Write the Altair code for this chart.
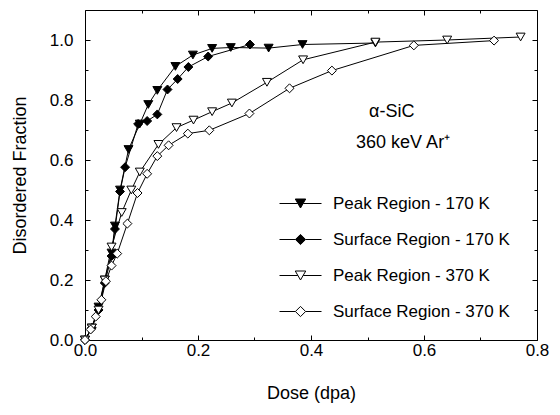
import altair as alt
import pandas as pd

series_names = ["Peak Region - 170 K", "Surface Region - 170 K",
                "Peak Region - 370 K", "Surface Region - 370 K"]

peak170_x = [0.0, 0.012, 0.024, 0.035, 0.047, 0.053, 0.062, 0.077, 0.097, 0.112, 0.128, 0.160, 0.191, 0.225, 0.258, 0.325, 0.385, 0.514]
peak170_y = [0.0, 0.04, 0.11, 0.20, 0.29, 0.38, 0.50, 0.635, 0.72, 0.785, 0.832, 0.912, 0.950, 0.972, 0.975, 0.973, 0.985, 0.990]

surf170_x = [0.0, 0.012, 0.024, 0.035, 0.047, 0.053, 0.062, 0.071, 0.094, 0.110, 0.128, 0.146, 0.164, 0.183, 0.218, 0.292]
surf170_y = [0.0, 0.04, 0.10, 0.19, 0.28, 0.37, 0.495, 0.576, 0.72, 0.73, 0.752, 0.835, 0.870, 0.910, 0.945, 0.985]

peak370_x = [0.0, 0.012, 0.024, 0.035, 0.047, 0.065, 0.082, 0.097, 0.130, 0.162, 0.192, 0.225, 0.260, 0.322, 0.386, 0.514, 0.641, 0.771]
peak370_y = [0.0, 0.04, 0.10, 0.20, 0.31, 0.425, 0.50, 0.56, 0.652, 0.708, 0.733, 0.761, 0.790, 0.859, 0.934, 0.993, 1.000, 1.010]

surf370_x = [0.0, 0.010, 0.019, 0.029, 0.037, 0.047, 0.057, 0.075, 0.093, 0.110, 0.128, 0.148, 0.182, 0.220, 0.291, 0.362, 0.437, 0.582, 0.724]
surf370_y = [0.0, 0.035, 0.078, 0.134, 0.196, 0.248, 0.288, 0.388, 0.490, 0.554, 0.613, 0.649, 0.688, 0.699, 0.755, 0.839, 0.898, 0.982, 0.998]

x_major = [0.0, 0.2, 0.4, 0.6, 0.8]
x_minor = [0.1, 0.3, 0.5, 0.7]
y_major = [0.0, 0.2, 0.4, 0.6, 0.8, 1.0]
y_minor = [0.1, 0.3, 0.5, 0.7, 0.9]

annot_1 = "α-SiC"
annot_2 = "360 keV Ar⁺"

rows = []
for name, xs, ys in zip(series_names,
                        [peak170_x, surf170_x, peak370_x, surf370_x],
                        [peak170_y, surf170_y, peak370_y, surf370_y]):
    for xv, yv in zip(xs, ys):
        rows.append({"series": name, "dose": xv, "frac": yv})
df = pd.DataFrame(rows)

FONT = "Liberation Sans"
W, H = 452, 330
MAJ, MIN = 5, 3

xscale = alt.Scale(domain=[0, 0.8], nice=False, zero=False)
yscale = alt.Scale(domain=[0, 1.1], nice=False, zero=False)


def ax(orient, values, size, labels=False, title=None, **kw):
    args = dict(orient=orient, values=values, tickSize=size, offset=-size,
                domain=False, grid=False, labels=labels, ticks=True,
                tickColor="black", tickWidth=1)
    if labels:
        args.update(labelFont=FONT, labelFontSize=17, labelColor="black",
                    labelFlush=False, labelOverlap=False)
    if title is not None:
        args.update(title=title, titleFont=FONT, titleFontSize=18,
                    titleFontWeight="normal", titleColor="black")
    else:
        args.update(title=None)
    args.update(kw)
    return alt.Axis(**args)


X = lambda a: alt.X("dose:Q", scale=xscale, axis=a)
Y = lambda a: alt.Y("frac:Q", scale=yscale, axis=a)

lines = alt.Chart(df).mark_line(color="black", strokeWidth=1).encode(
    x=X(ax("bottom", x_major, MAJ, labels=True, title="Dose (dpa)",
           labelPadding=2, format=".1f", titleBaseline="middle", titleY=58)),
    y=Y(ax("left", y_major, MAJ, labels=True, title="Disordered Fraction",
           labelPadding=12, format=".1f", titleBaseline="middle", titleX=-70)),
    detail="series:N",
)

points = alt.Chart(df).mark_point(filled=True, size=80, stroke="black",
                                  strokeWidth=1, opacity=1).encode(
    x=X(ax("bottom", x_minor, MIN)),
    y=Y(ax("left", y_minor, MIN)),
    shape=alt.Shape("series:N", scale=alt.Scale(
        domain=series_names,
        range=["triangle-down", "diamond", "triangle-down", "diamond"]), legend=None),
    fill=alt.Fill("series:N", scale=alt.Scale(
        domain=series_names, range=["black", "black", "white", "white"]), legend=None),
)

frame_major = alt.Chart(df).mark_point(opacity=0).encode(
    x=X(ax("top", x_major, MAJ)),
    y=Y(ax("right", y_major, MAJ)),
)
frame_minor = alt.Chart(df).mark_point(opacity=0).encode(
    x=X(ax("top", x_minor, MIN)),
    y=Y(ax("right", y_minor, MIN)),
)

tri_path = "M-3.5,0H-0.45M0.45,0H3.5M-0.87,-0.75L0.87,-0.75L0,0.75Z"
dia_path = "M-3.5,0H-0.85M0.85,0H3.5M-0.85,0L0,-0.85L0.85,0L0,0.85Z"

leg = alt.Legend(orient="none", legendX=207, legendY=185, title=None,
                 symbolSize=144, symbolStrokeWidth=1, symbolOpacity=1,
                 labelFont=FONT, labelFontSize=17, labelColor="black",
                 labelLimit=400, labelOffset=24, rowPadding=18, padding=0)

legend_layer = alt.Chart(df).transform_filter("false").mark_point(
    filled=True, stroke="black", strokeWidth=1, size=144, opacity=1).encode(
    x=alt.X("dose:Q", scale=xscale, axis=None),
    y=alt.Y("frac:Q", scale=yscale, axis=None),
    shape=alt.Shape("series:N", scale=alt.Scale(
        domain=series_names, range=[tri_path, dia_path, tri_path, dia_path]), legend=leg),
    fill=alt.Fill("series:N", scale=alt.Scale(
        domain=series_names, range=["black", "black", "white", "white"]), legend=leg),
)

t1 = alt.Chart(pd.DataFrame({"a": [0]})).mark_text(
    text=annot_1, font=FONT, fontSize=18, color="black").encode(
    x=alt.X(datum=0.543, scale=xscale, axis=None),
    y=alt.Y(datum=0.76, scale=yscale, axis=None))
t2 = alt.Chart(pd.DataFrame({"a": [0]})).mark_text(
    text=annot_2, font=FONT, fontSize=18, color="black").encode(
    x=alt.X(datum=0.563, scale=xscale, axis=None),
    y=alt.Y(datum=0.657, scale=yscale, axis=None))

chart = alt.layer(lines, points, frame_major, frame_minor, legend_layer, t1, t2).resolve_axis(
    x="independent", y="independent"
).resolve_scale(shape="independent", fill="independent").properties(
    width=W, height=H,
    autosize=alt.AutoSizeParams(type="none"),
    padding={"left": 77, "top": 2, "right": 15, "bottom": 75},
    background="white",
).configure_view(stroke="black", strokeWidth=1)

chart.save("out.html", embed_options={"renderer": "svg", "actions": False})
